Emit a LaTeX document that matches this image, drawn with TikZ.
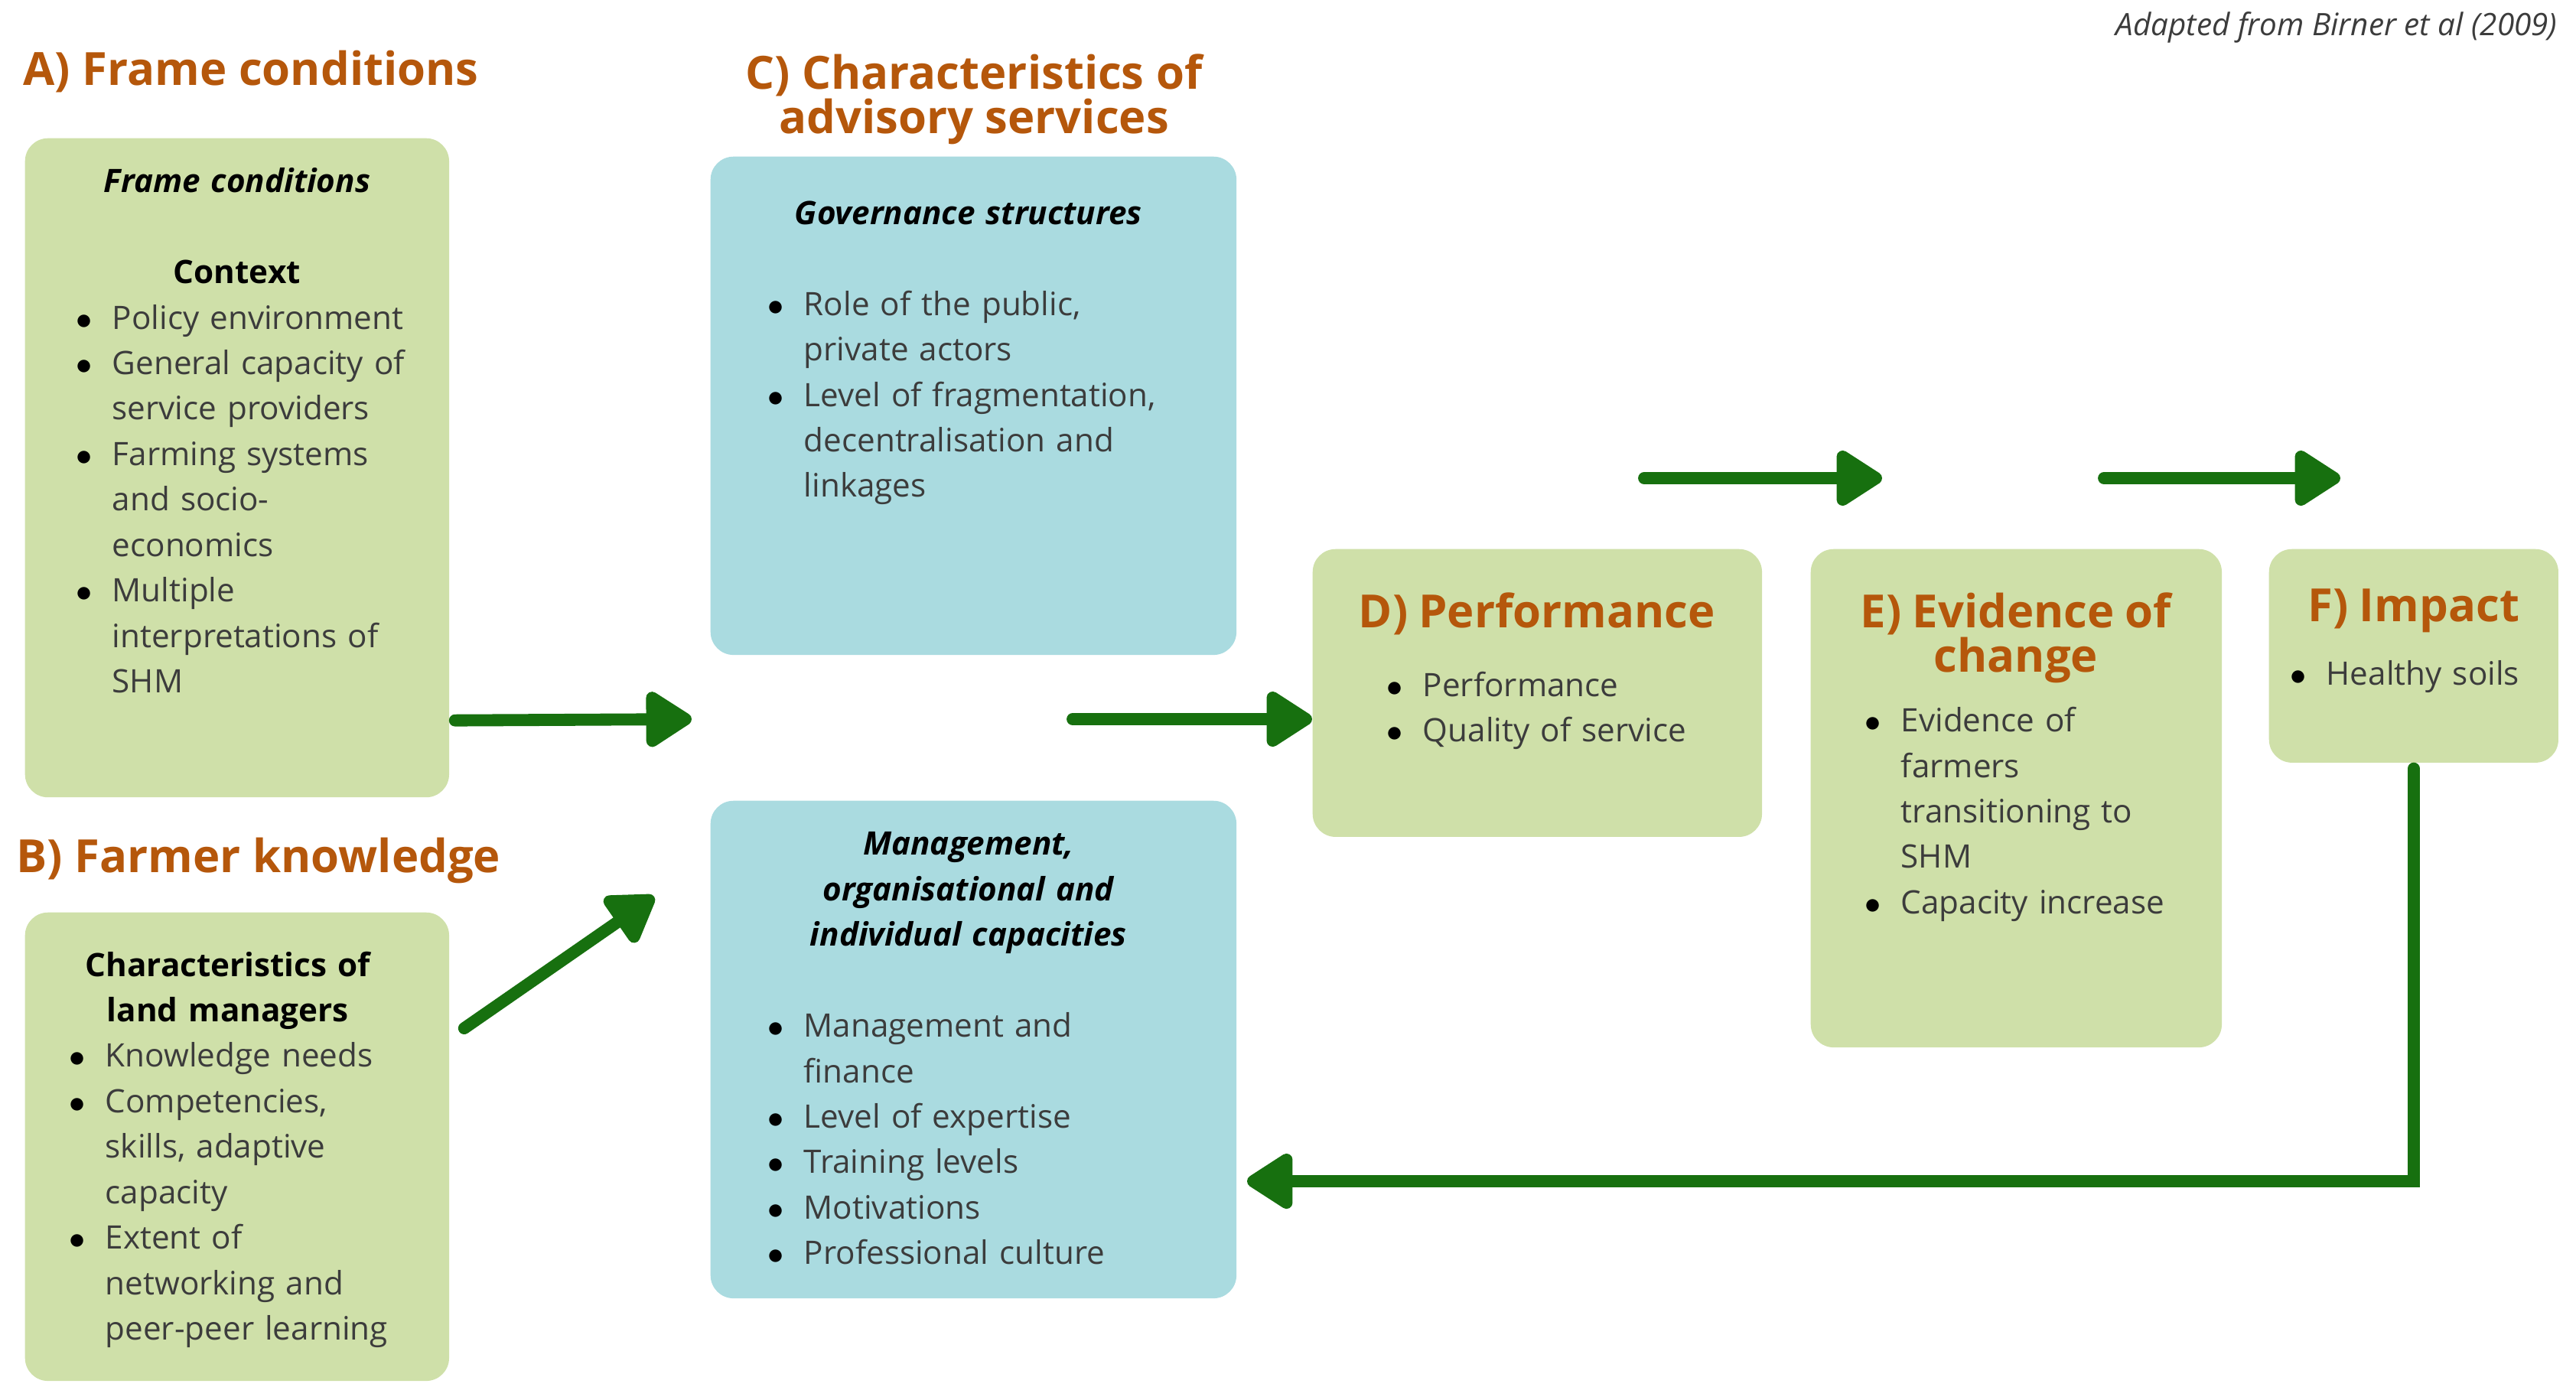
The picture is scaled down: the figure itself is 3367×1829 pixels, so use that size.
\documentclass[tikz,border=0pt]{standalone}
\usepackage{fontspec}
\setmainfont{Open Sans}
\usepackage{enumitem}
\usetikzlibrary{arrows.meta, positioning}

\definecolor{boxgreen}{HTML}{CFE0A9}
\definecolor{boxblue}{HTML}{AADBE0}
\definecolor{headorange}{HTML}{B5570B}
\definecolor{arrowgreen}{HTML}{17700F}
\definecolor{bodygray}{HTML}{3C3C3C}

\newcommand{\bodyfont}{\fontsize{12}{16.9}\selectfont}
\newcommand{\headfont}{\fontsize{17}{16.5}\selectfont\bfseries}
\newcommand{\boxtitle}[1]{{\centering\bfseries\color{black}#1\par}}
\newcommand{\boxhead}[1]{{\centering\headfont\color{headorange}#1\par}}
\newenvironment{blist}[1]{\begin{itemize}[leftmargin=#1, labelsep=0.26cm, itemsep=0pt, topsep=0pt, parsep=0pt, partopsep=0pt, label={\color{black}$\bullet$}]}{\end{itemize}}

\begin{document}
\begin{tikzpicture}[x=0.01cm, y=-0.01cm,
  gbox/.style={fill=boxgreen, rounded corners=0.3cm, inner sep=0pt, anchor=north west},
  bbox/.style={gbox, fill=boxblue},
  content/.style={inner sep=0pt, text=bodygray, font=\bodyfont, align=left},
  head/.style={text=headorange, font=\headfont, inner sep=0pt},
  flow/.style={draw=arrowgreen, line width=4.5pt, line cap=round, -{Triangle[round, length=19pt, width=23pt]}}]
\useasboundingbox (0,0) rectangle (3367,1829);

\node[font=\fontsize{11.5}{14}\selectfont\itshape, text=bodygray, anchor=east, inner sep=0pt] (src) at (3343,36) {Adapted from Birner et al (2009)};

% section titles
\node[head, anchor=west] (tA) at (30,94) {A) Frame conditions};
\node[head, anchor=west] (tB) at (21,1125) {B) Farmer knowledge};
\node[head, align=center] (tC) at (1273,130) {C) Characteristics of\\advisory services};

% boxes
\node[gbox, minimum width=5.54cm, minimum height=8.61cm] (A) at (32,180) {};
\node[gbox, minimum width=5.54cm, minimum height=6.12cm] (B) at (32,1192) {};
\node[bbox, minimum width=6.87cm, minimum height=6.51cm] (C1) at (928,204) {};
\node[bbox, minimum width=6.87cm, minimum height=6.50cm] (C2) at (928,1046) {};
\node[gbox, minimum width=5.87cm, minimum height=3.76cm] (D) at (1715,717) {};
\node[gbox, minimum width=5.37cm, minimum height=6.51cm] (E) at (2366,717) {};
\node[gbox, minimum width=3.78cm, minimum height=2.79cm] (F) at (2965,717) {};

\node[content, text width=4.94cm, below right=0.39cm and 0.3cm of A.north west] (aTxt) {%
\boxtitle{\itshape Frame conditions}
\vspace{\baselineskip}
\boxtitle{Context}
\begin{blist}{0.84cm}
\item Policy environment
\item General capacity of\newline service providers
\item Farming systems\newline and socio-\newline economics
\item Multiple\newline interpretations of\newline SHM
\end{blist}};

\node[content, text width=4.7cm, below right=0.51cm and 0.3cm of B.north west] (bTxt) {%
\boxtitle{Characteristics of\\ land managers}
\begin{blist}{0.75cm}
\item Knowledge needs
\item Competencies,\newline skills, adaptive\newline capacity
\item Extent of\newline networking and\newline peer-peer learning
\end{blist}};

\node[content, text width=6.14cm, below right=0.58cm and 0.3cm of C1.north west] (c1Txt) {%
\boxtitle{\itshape Governance structures}
\vspace{\baselineskip}
\begin{blist}{0.92cm}
\item Role of the public,\newline private actors
\item Level of fragmentation,\newline decentralisation and\newline linkages
\end{blist}};

\node[content, text width=6.14cm, below right=0.41cm and 0.3cm of C2.north west] (c2Txt) {%
\boxtitle{\itshape Management,\\ organisational and\\ individual capacities}
\vspace{\baselineskip}
\begin{blist}{0.92cm}
\item Management and\newline finance
\item Level of expertise
\item Training levels
\item Motivations
\item Professional culture
\end{blist}};

\node[content, text width=5.26cm, below right=0.57cm and 0.3cm of D.north west] (dTxt) {%
\boxhead{D) Performance}
\vspace{8.7pt}
\begin{blist}{1.14cm}
\item Performance
\item Quality of service
\end{blist}};

\node[content, text width=4.96cm, below right=0.57cm and 0.2cm of E.north west] (eTxt) {%
\boxhead{E) Evidence of\\ change}
\vspace{5.3pt}
\begin{blist}{0.98cm}
\item Evidence of\newline farmers\newline transitioning to\newline SHM
\item Capacity increase
\end{blist}};

\node[content, text width=3.58cm, below right=0.52cm and 0.1cm of F.north west] (fTxt) {%
\boxhead{F) Impact}
\vspace{6.7pt}
\begin{blist}{0.65cm}
\item Healthy soils
\end{blist}};

% arrows
\coordinate (a2c) at (904,940);
\coordinate (cmid) at (1402,940);
\coordinate (b2c) at (855,1172);
\coordinate (dOut) at (2149,625);
\coordinate (d2e) at (2460,625);
\coordinate (eOut) at (2750,625);
\coordinate (e2f) at (3059,625);
\coordinate (back) at (1630,1544);

\draw[flow] ([xshift=0.07cm,yshift=-3.3cm]A.east) -- (a2c);
\draw[flow] (cmid) -- (D.west |- cmid);
\draw[flow] ([xshift=0.19cm,yshift=-1.52cm]B.north east) -- (b2c);
\draw[flow] (dOut) -- (d2e);
\draw[flow] (eOut) -- (e2f);
\draw[flow, rounded corners=0pt] ([yshift=-0.07cm]F.south) |- (back);
\end{tikzpicture}
\end{document}
